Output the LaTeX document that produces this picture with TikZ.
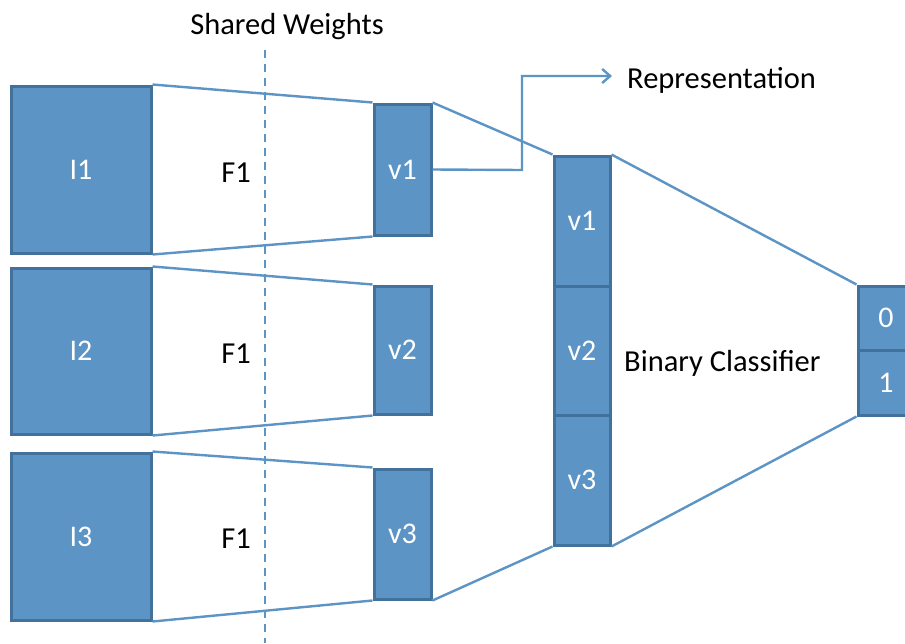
\documentclass[tikz,border=0pt]{standalone}
\usepackage{fontspec}
\setmainfont{Carlito}
\usetikzlibrary{arrows.meta}
\definecolor{boxfill}{RGB}{92,148,198}
\definecolor{boxline}{RGB}{66,113,156}
\definecolor{conn}{RGB}{92,148,198}
\begin{document}
\begin{tikzpicture}[x=1pt,y=-1pt,
  blk/.style={draw=boxline,fill=boxfill,line width=3pt,inner sep=0pt,text=white,font=\fontsize{30}{32}\selectfont},
  conline/.style={draw=conn,line width=2.4pt},
  lbl/.style={inner sep=0pt,text=black,font=\fontsize{30.5}{32}\selectfont}]
\clip (0,0) rectangle (905,643);
\fill[white] (0,0) rectangle (905,643);
% dashed line
\coordinate (dtop) at (265,50);
\coordinate (dbot) at (265,643);
\draw[conn,line width=2.4pt,dash pattern=on 8pt off 6pt] (dtop) -- (dbot);
% input boxes
\node[blk,minimum width=140pt,minimum height=167pt] (I1) at (81,169.5) {I1};
\node[blk,minimum width=140pt,minimum height=166pt] (I2) at (81,351) {I2};
\node[blk,minimum width=140pt,minimum height=167pt] (I3) at (81,536.5) {I3};
% small v boxes
\node[blk,minimum width=57pt,minimum height=131pt] (s1) at (402.5,169.5) {v1};
\node[blk,minimum width=57pt,minimum height=128pt] (s2) at (402.5,350) {v2};
\node[blk,minimum width=57pt,minimum height=130pt] (s3) at (402.5,534) {v3};
% concatenated column
\node[blk,minimum width=56pt,minimum height=130pt] (c1) at (582,221) {v1};
\node[blk,minimum width=56pt,minimum height=129pt] (c2) at (582,350.5) {v2};
\node[blk,minimum width=56pt,minimum height=130pt] (c3) at (582,480) {v3};
% output
\node[blk,minimum width=56pt,minimum height=64pt] (o0) at (886,318) {0};
\node[blk,minimum width=56pt,minimum height=65pt] (o1) at (886,382.5) {1};
% connectors
\draw[conline] (I1.north east) -- (s1.north west);
\draw[conline] (I1.south east) -- (s1.south west);
\draw[conline] (I2.north east) -- (s2.north west);
\draw[conline] (I2.south east) -- (s2.south west);
\draw[conline] (I3.north east) -- (s3.north west);
\draw[conline] (I3.south east) -- (s3.south west);
\draw[conline] (s1.north east) -- (c1.north west);
\draw[conline] (s3.south east) -- (c3.south west);
\draw[conline] (c1.north east) -- (o0.north west);
\draw[conline] (c3.south east) -- (o1.south west);
% labels
\node[lbl] (sw) at (287,27) {Shared Weights};
\node[lbl] (f1) at (236,173) {F1};
\node[lbl] (f2) at (236,354) {F1};
\node[lbl] (f3) at (236,539) {F1};
\node[lbl,anchor=west] (rep) at (627,80) {Representation};
\node[lbl,anchor=west] (bc) at (624,363) {Binary Classifier};
% representation arrow
\coordinate (ra) at (522,170);
\coordinate (rb) at (522,76);
\coordinate (rc) at (612,76);
\draw[conline,-{Straight Barb[length=8pt,width=14pt,line width=2.4pt]}] (s1.east) -- (ra) -- (rb) -- (rc);
\end{tikzpicture}
\end{document}
